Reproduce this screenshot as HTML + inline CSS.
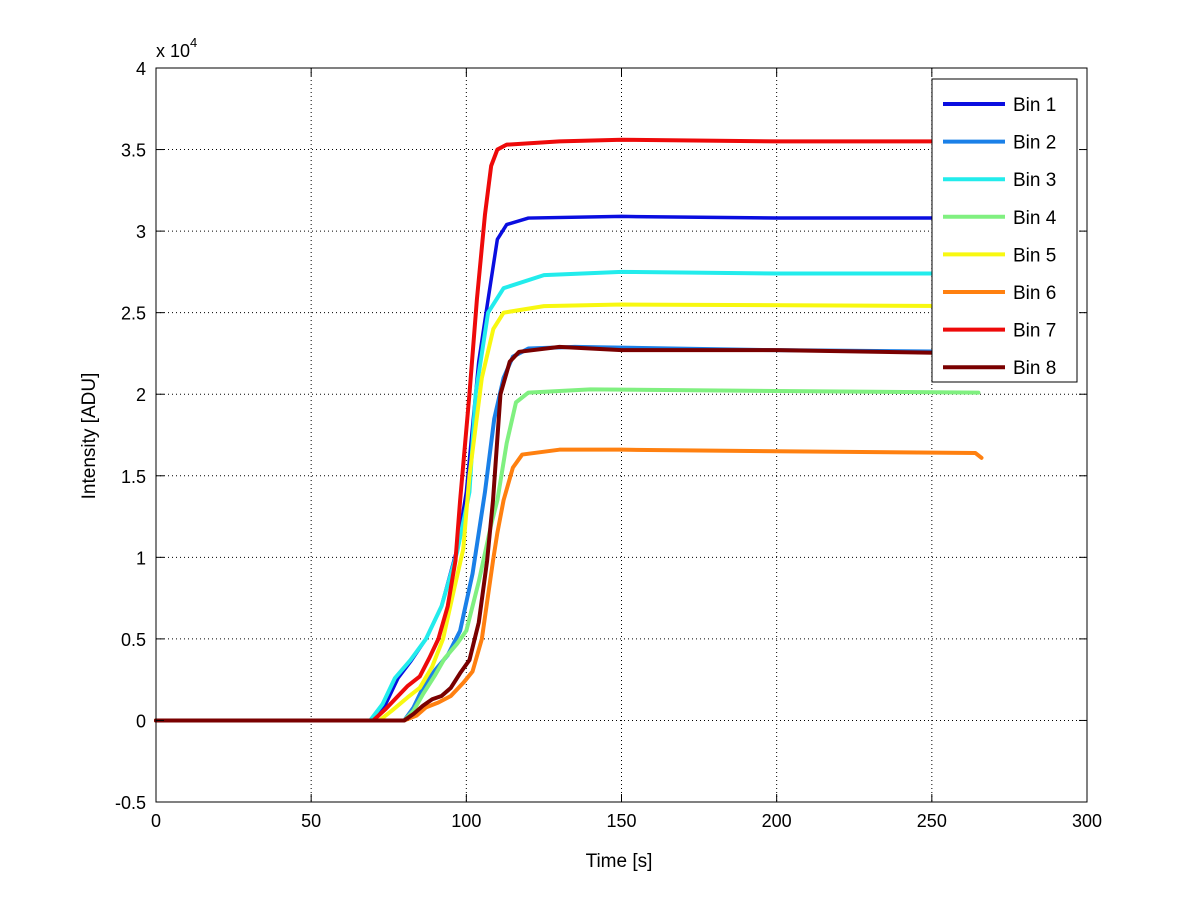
<!DOCTYPE html>
<html><head><meta charset="utf-8"><style>
body{margin:0;background:#fff}
svg{display:block;font-family:"Liberation Sans",sans-serif}
</style></head><body>
<svg id="c" width="1200" height="901"></svg>
<script>
const xTicks=[0,50,100,150,200,250,300];
const yTicks=[-0.5,0,0.5,1,1.5,2,2.5,3,3.5,4];
const seriesNames=["Bin 1","Bin 2","Bin 3","Bin 4","Bin 5","Bin 6","Bin 7","Bin 8"];
const seriesColors=["#0a0ee0","#1a80e8","#22ecec","#80f080","#f8f810","#ff8010","#ee0a0a","#7a0000"];
const bin1=[[0,0],[70,0],[74,1],[78,2.6],[82,3.6],[87,5],[92,7],[97,10.5],[100,14],[104,22],[107,25.8],[110,29.5],[113,30.4],[120,30.8],[150,30.9],[200,30.8],[265,30.8]];
const bin2=[[0,0],[80,0],[83,0.8],[86,2],[90,3.1],[94,4],[98,5.5],[102,9],[106,14],[109,18.5],[112,21],[115,22.3],[120,22.8],[135,22.9],[200,22.7],[265,22.6]];
const bin3=[[0,0],[69,0],[73,1],[77,2.6],[82,3.7],[87,5],[92,7],[97,10.3],[101,14],[103,20],[107,25],[112,26.5],[125,27.3],[150,27.5],[200,27.4],[265,27.4]];
const bin4=[[0,0],[80,0],[83,0.6],[86,1.6],[90,2.8],[93,3.8],[97,4.7],[100,5.5],[104,8.5],[108,12],[110,13.5],[113,17],[116,19.5],[120,20.1],[140,20.3],[200,20.2],[265,20.1]];
const bin5=[[0,0],[72,0],[76,0.6],[81,1.4],[85,2],[89,3.3],[92.5,5],[96,8],[99,10.5],[101,15],[105,21],[108.7,24],[112,25],[125,25.4],[150,25.5],[265,25.4]];
const bin6=[[0,0],[80,0],[84,0.3],[87,0.8],[91,1.1],[95,1.5],[99,2.3],[102,3],[105,5],[108.6,9.8],[110,11.5],[112,13.5],[115,15.5],[118,16.3],[130,16.6],[150,16.6],[200,16.5],[264,16.4],[266,16.1]];
const bin7=[[0,0],[70,0],[74,0.7],[78,1.5],[81,2.1],[85,2.7],[88,3.8],[91,5],[94,7],[96.5,9.8],[98,13.5],[101,20],[103.4,25.8],[106,31],[108,34],[110,35],[113,35.3],[130,35.5],[150,35.6],[200,35.5],[265,35.5]];
const bin8=[[0,0],[80,0],[83,0.4],[86,0.9],[89,1.3],[92,1.5],[95,2],[98,2.9],[101,3.7],[104,6],[106.7,9.8],[108.6,13.5],[111,20],[114,22],[117,22.6],[130,22.9],[150,22.7],[200,22.7],[265,22.5]];
const allData=[bin1,bin2,bin3,bin4,bin5,bin6,bin7,bin8];
const L=156,R=1087,T=68,B=802,x0=0,x1=300,y0=-0.5,y1=4;
const X=v=>L+(v-x0)/(x1-x0)*(R-L);
const Y=v=>B-(v-y0)/(y1-y0)*(B-T);
const NS="http://www.w3.org/2000/svg";
const svg=document.getElementById('c');
function mk(tag,attrs,parent){const e=document.createElementNS(NS,tag);for(const k in attrs)e.setAttribute(k,attrs[k]);(parent||svg).appendChild(e);return e;}
// grid
xTicks.forEach(t=>{if(t>x0&&t<x1){const g=mk('line',{x1:X(t),x2:X(t),y1:T,y2:B,stroke:'#000','stroke-width':1,'stroke-dasharray':'1,3'});

}});
yTicks.forEach(t=>{if(t>y0&&t<y1){const g=mk('line',{x1:L,x2:R,y1:Y(t),y2:Y(t),stroke:'#000','stroke-width':1,'stroke-dasharray':'1,3'});

}});
// series (draw 1..8 order)
allData.forEach((d,i)=>{
 const p=mk('polyline',{points:d.map(q=>X(q[0])+','+Y(q[1]/10)).join(' '),fill:'none',stroke:seriesColors[i],'stroke-width':i==0?3.5:4,'stroke-linejoin':'round','stroke-linecap':'round'});
 
 
});
// axes box
const box=mk('rect',{x:L,y:T,width:R-L,height:B-T,fill:'none',stroke:'#000','stroke-width':1});


xTicks.forEach(t=>{
 mk('line',{x1:X(t),x2:X(t),y1:B,y2:B-8,stroke:'#000'});
 mk('line',{x1:X(t),x2:X(t),y1:T,y2:T+8,stroke:'#000'});
 const tx=mk('text',{x:X(t),y:B+25,'text-anchor':'middle','font-size':18});tx.textContent=t;
 
 
});
yTicks.forEach(t=>{
 mk('line',{x1:L,x2:L+8,y1:Y(t),y2:Y(t),stroke:'#000'});
 mk('line',{x1:R,x2:R-8,y1:Y(t),y2:Y(t),stroke:'#000'});
 const tx=mk('text',{x:L-10,y:Y(t)+7,'text-anchor':'end','font-size':18});tx.textContent=t;
 
 
});
const ex=mk('text',{x:156,y:57,'font-size':18});ex.innerHTML='x 10<tspan dy="-10" font-size="13">4</tspan>';


const xt=mk('text',{x:619,y:867,'text-anchor':'middle','font-size':19});xt.textContent='Time [s]';


const yt=mk('text',{x:0,y:0,'text-anchor':'middle','font-size':19,transform:'translate(95,436) rotate(-90)'});yt.textContent='Intensity [ADU]';


// legend
const lg=mk('g',{});


mk('rect',{x:932,y:79,width:145,height:303,fill:'#fff',stroke:'#000','stroke-width':1},lg);
seriesNames.forEach((n,i)=>{
 const y=104+i*37.6;
 const e=mk('g',{},lg);
 
 
 mk('line',{x1:943,x2:1005,y1:y,y2:y,stroke:seriesColors[i],'stroke-width':4},e);
 const t=mk('text',{x:1013,y:y+7,'font-size':19},e);t.textContent=n;
});
</script>
</body></html>
